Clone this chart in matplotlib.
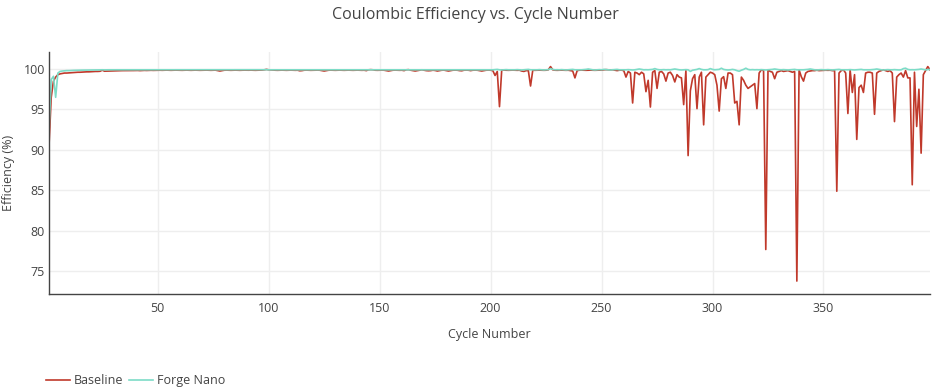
import matplotlib
matplotlib.use("Agg")
import matplotlib.pyplot as plt

plt.rcParams['font.family'] = ['Open Sans', 'DejaVu Sans']

# Coulombic efficiency (%) per cycle
baseline = [
    90.5, 96.5, 98.5, 99.0, 99.3, 99.4, 99.45, 99.5, 99.5, 99.52,          # 1
    99.55, 99.55, 99.58, 99.6, 99.6, 99.62, 99.63, 99.65, 99.65, 99.67,    # 11
    99.68, 99.7, 99.7, 99.72, 99.85, 99.73, 99.74, 99.75, 99.76, 99.77,    # 21
    99.78, 99.78, 99.79, 99.8, 99.8, 99.8, 99.81, 99.8, 99.81, 99.82,      # 31
    99.82, 99.8, 99.82, 99.83, 99.82, 99.83, 99.84, 99.83, 99.84, 99.84,   # 41
    99.85, 99.84, 99.85, 99.86, 99.85, 99.84, 99.85, 99.86, 99.85, 99.85,  # 51
    99.84, 99.85, 99.86, 99.85, 99.84, 99.85, 99.86, 99.85, 99.84, 99.85,  # 61
    99.85, 99.86, 99.85, 99.84, 99.85, 99.86, 99.8, 99.75, 99.8, 99.85,    # 71
    99.86, 99.85, 99.84, 99.85, 99.86, 99.85, 99.84, 99.85, 99.86, 99.85,  # 81
    99.85, 99.86, 99.85, 99.84, 99.85, 99.86, 99.87, 99.9, 99.95, 99.9,    # 91
    99.88, 99.86, 99.85, 99.84, 99.85, 99.86, 99.85, 99.84, 99.85, 99.86,  # 101
    99.85, 99.84, 99.85, 99.78, 99.8, 99.85, 99.86, 99.85, 99.84, 99.85,   # 111
    99.85, 99.86, 99.85, 99.8, 99.75, 99.8, 99.85, 99.86, 99.85, 99.84,    # 121
    99.85, 99.86, 99.85, 99.84, 99.85, 99.86, 99.85, 99.84, 99.85, 99.86,  # 131
    99.85, 99.84, 99.85, 99.8, 99.9, 99.92, 99.9, 99.85, 99.84, 99.85,     # 141
    99.86, 99.85, 99.8, 99.75, 99.8, 99.85, 99.86, 99.85, 99.84, 99.85,    # 151
    99.8, 99.9, 99.92, 99.85, 99.8, 99.75, 99.8, 99.85, 99.9, 99.85,       # 161
    99.8, 99.78, 99.8, 99.85, 99.82, 99.75, 99.8, 99.85, 99.86, 99.8,      # 171
    99.75, 99.8, 99.85, 99.86, 99.85, 99.8, 99.78, 99.85, 99.86, 99.85,    # 181
    99.8, 99.85, 99.86, 99.85, 99.8, 99.75, 99.8, 99.85, 99.86, 99.85,     # 191
    99.8, 99.2, 99.7, 95.35, 99.85, 99.86, 99.85, 99.84, 99.85, 99.86,     # 201
    99.85, 99.84, 99.85, 99.75, 99.7, 99.8, 99.8, 97.9, 99.85, 99.84,      # 211
    99.85, 99.86, 99.85, 99.84, 99.85, 99.9, 100.3, 99.9, 99.85, 99.84,    # 221
    99.85, 99.86, 99.85, 99.84, 99.85, 99.8, 99.75, 98.9, 99.8, 99.85,     # 231
    99.86, 99.85, 99.84, 99.85, 99.86, 99.85, 99.84, 99.85, 99.86, 99.85,  # 241
    99.9, 99.92, 99.9, 99.88, 99.9, 99.85, 99.8, 99.85, 99.86, 99.8,       # 251
    99.0, 99.7, 99.5, 95.8, 99.6, 99.5, 99.3, 99.6, 99.4, 97.2,            # 261
    98.6, 95.3, 99.6, 99.8, 97.6, 99.6, 99.7, 99.4, 98.5, 99.5,            # 271
    99.6, 99.2, 98.4, 99.3, 99.0, 98.9, 95.6, 99.8, 89.3, 97.3,            # 281
    98.8, 99.3, 95.1, 99.0, 99.6, 93.1, 99.0, 99.3, 99.6, 99.5,            # 291
    99.3, 98.0, 94.8, 98.8, 99.05, 97.6, 99.5, 99.5, 99.3, 95.8,           # 301
    96.0, 93.1, 99.0, 98.6, 98.0, 97.6, 97.8, 98.0, 98.2, 95.1,            # 311
    99.5, 99.9, 99.8, 77.7, 99.9, 99.7, 99.6, 98.8, 99.6, 99.7,            # 321
    99.8, 99.7, 99.75, 99.8, 99.7, 99.6, 99.7, 73.8, 99.9, 99.05,          # 331
    98.5, 99.5, 99.7, 99.75, 99.8, 99.8, 99.85, 99.8, 99.82, 99.85,        # 341
    99.85, 99.84, 99.85, 99.8, 99.8, 84.9, 99.5, 99.8, 99.9, 99.5,         # 351
    94.5, 99.9, 97.1, 99.3, 91.3, 97.7, 98.0, 97.1, 99.5, 99.6,            # 361
    99.6, 99.5, 94.4, 99.5, 99.7, 99.8, 99.9, 99.8, 99.7, 99.8,            # 371
    99.5, 93.5, 99.0, 99.3, 99.5, 99.0, 99.8, 98.9, 98.9, 85.7,            # 381
    99.6, 92.9, 97.5, 89.6, 99.3, 99.8, 100.3, 99.9,                       # 391
]

forge_nano = [
    92.3, 98.7, 99.1, 96.5, 99.5, 99.7, 99.75, 99.78, 99.8, 99.8,          # 1
    99.82, 99.83, 99.84, 99.85, 99.85, 99.86, 99.86, 99.87, 99.87, 99.88,  # 11
    99.88, 99.88, 99.89, 99.89, 99.9, 99.89, 99.9, 99.9, 99.9, 99.9,      # 21
    99.9, 99.91, 99.9, 99.9, 99.91, 99.9, 99.9, 99.91, 99.9, 99.9,        # 31
    99.9, 99.91, 99.9, 99.9, 99.91, 99.9, 99.9, 99.91, 99.9, 99.9,        # 41
    99.9, 99.91, 99.9, 99.9, 99.91, 99.9, 99.9, 99.91, 99.9, 99.9,        # 51
    99.9, 99.91, 99.9, 99.9, 99.91, 99.9, 99.9, 99.91, 99.9, 99.9,        # 61
    99.9, 99.91, 99.9, 99.9, 99.91, 99.9, 99.9, 99.91, 99.9, 99.9,        # 71
    99.9, 99.91, 99.9, 99.9, 99.91, 99.9, 99.9, 99.91, 99.9, 99.9,        # 81
    99.9, 99.91, 99.9, 99.9, 99.91, 99.9, 99.9, 99.91, 99.92, 99.9,       # 91
    99.9, 99.91, 99.9, 99.9, 99.91, 99.9, 99.9, 99.91, 99.9, 99.9,        # 101
    99.9, 99.91, 99.9, 99.9, 99.91, 99.9, 99.9, 99.91, 99.9, 99.9,        # 111
    99.9, 99.91, 99.9, 99.9, 99.91, 99.9, 99.9, 99.91, 99.9, 99.9,        # 121
    99.9, 99.91, 99.9, 99.9, 99.91, 99.9, 99.9, 99.91, 99.9, 99.9,        # 131
    99.9, 99.91, 99.9, 99.9, 99.91, 99.9, 99.9, 99.91, 99.9, 99.9,        # 141
    99.9, 99.91, 99.9, 99.9, 99.91, 99.9, 99.9, 99.91, 99.9, 99.9,        # 151
    99.9, 99.91, 99.9, 99.9, 99.91, 99.9, 99.9, 99.91, 99.9, 99.9,        # 161
    99.9, 99.91, 99.9, 99.9, 99.91, 99.9, 99.9, 99.91, 99.9, 99.9,        # 171
    99.9, 99.91, 99.9, 99.9, 99.91, 99.9, 99.9, 99.91, 99.9, 99.9,        # 181
    99.9, 99.91, 99.9, 99.9, 99.91, 99.9, 99.9, 99.91, 99.9, 99.9,        # 191
    99.9, 99.92, 99.95, 99.9, 99.88, 99.9, 99.92, 99.9, 99.9, 99.91,      # 201
    99.9, 99.92, 99.9, 99.88, 99.9, 99.92, 99.95, 99.9, 99.9, 99.91,      # 211
    99.9, 99.92, 99.9, 99.88, 99.9, 99.92, 100.05, 99.95, 99.9, 99.91,    # 221
    99.9, 99.92, 99.9, 99.88, 99.9, 99.92, 99.95, 99.9, 99.9, 99.91,      # 231
    99.9, 99.92, 99.95, 100.0, 99.95, 99.9, 99.88, 99.9, 99.92, 99.9,     # 241
    99.95, 99.92, 99.9, 99.88, 99.9, 99.92, 99.95, 99.9, 99.9, 99.91,     # 251
    99.9, 99.92, 99.9, 99.88, 99.9, 99.95, 100.0, 99.95, 99.9, 99.91,     # 261
    99.9, 99.92, 99.95, 100.05, 99.95, 99.9, 99.9, 99.92, 99.9, 99.91,    # 271
    99.9, 99.95, 100.0, 99.95, 99.9, 99.88, 99.9, 99.92, 99.9, 99.7,      # 281
    99.85, 99.9, 99.95, 100.05, 99.95, 99.9, 99.9, 99.92, 100.05, 99.95,  # 291
    99.9, 99.92, 99.95, 100.1, 99.95, 99.9, 99.88, 99.9, 99.95, 99.9,     # 301
    99.8, 99.72, 99.85, 99.95, 100.1, 99.95, 99.9, 99.92, 99.9, 99.91,    # 311
    99.9, 99.92, 99.9, 99.88, 99.9, 99.92, 99.95, 100.0, 99.95, 99.91,    # 321
    99.9, 99.92, 99.9, 99.88, 99.9, 99.92, 99.95, 99.9, 99.9, 99.91,      # 331
    99.9, 99.92, 99.95, 100.0, 99.95, 99.9, 99.88, 99.9, 99.92, 99.9,     # 341
    99.9, 99.92, 99.9, 99.88, 99.9, 99.92, 99.95, 99.9, 99.9, 99.91,      # 351
    99.9, 99.92, 99.9, 99.88, 99.9, 99.92, 99.95, 99.9, 99.9, 99.91,      # 361
    99.9, 99.92, 99.95, 100.0, 99.95, 99.9, 99.88, 99.9, 99.92, 99.9,     # 371
    99.9, 99.92, 99.9, 99.88, 99.9, 100.05, 100.1, 99.95, 99.9, 99.91,    # 381
    99.9, 99.92, 99.95, 100.0, 99.95, 99.9, 99.92, 99.95,                 # 391
]

cycles = list(range(1, len(baseline) + 1))

series_names = ["Baseline", "Forge Nano"]
series_colors = ["#c0392b", "#7ddcc7"]

text_color = "#444444"

fig = plt.figure(figsize=(9.5, 3.92), dpi=100)
ax = fig.add_axes([49 / 950, 1 - 294 / 392, (930 - 49) / 950, (294 - 52) / 392])

ax.plot(cycles, baseline, color=series_colors[0], lw=1.2, label=series_names[0])
ax.plot(cycles, forge_nano, color=series_colors[1], lw=1.2, label=series_names[1])

ax.set_xlim(1, len(cycles))
ax.set_ylim(72.2, 102.1)
ax.set_xticks([50, 100, 150, 200, 250, 300, 350])
ax.set_yticks([75, 80, 85, 90, 95, 100])
ax.grid(True, color="#eeeeee", lw=1)
ax.set_axisbelow(True)

for s in ["top", "right"]:
    ax.spines[s].set_visible(False)
for s in ["left", "bottom"]:
    ax.spines[s].set_color("#444444")
    ax.spines[s].set_linewidth(1)

ax.tick_params(axis="both", length=0, labelsize=9, colors=text_color)
ax.tick_params(axis="x", pad=6)
ax.tick_params(axis="y", pad=3)
ax.set_xlabel("Cycle Number", fontsize=9, color=text_color, labelpad=9)
ax.set_ylabel("Efficiency (%)", fontsize=9, color=text_color)
ax.yaxis.set_label_coords((15 - 49) / 881, 0.5)

fig.text(0.5, 1 - 15 / 392, "Coulombic Efficiency vs. Cycle Number",
         ha="center", va="center", fontsize=11.5, color=text_color)

fig.legend(loc="upper left", bbox_to_anchor=(46 / 950, 1 - 374 / 392),
           ncol=2, frameon=False, fontsize=9, handlelength=1.9,
           handletextpad=0.3, columnspacing=0.5, labelcolor=text_color,
           borderaxespad=0, borderpad=0)

fig.savefig("out.png", dpi=100)
